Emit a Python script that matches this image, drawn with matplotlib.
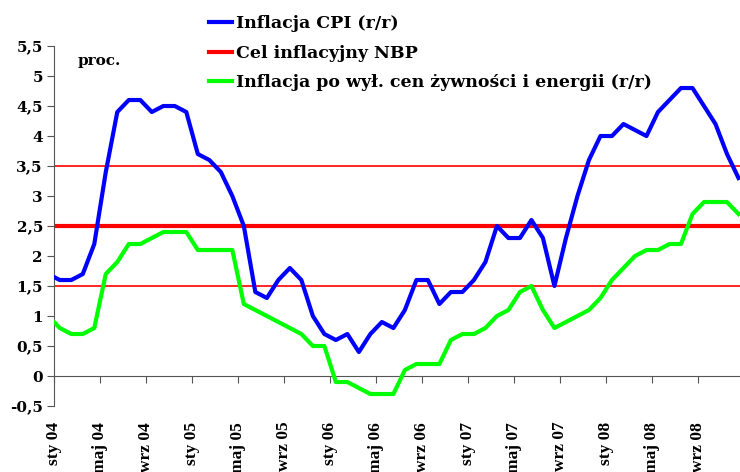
import matplotlib
matplotlib.use('Agg')
import matplotlib.pyplot as plt
from matplotlib.ticker import MultipleLocator, FuncFormatter

# miesiace od gru 03 do gru 08 (indeks 0 = sty 04)
miesiace = list(range(-1, 60))

cpi = [1.7,
       1.6, 1.6, 1.7, 2.2, 3.4, 4.4, 4.6, 4.6, 4.4, 4.5, 4.5, 4.4,
       3.7, 3.6, 3.4, 3.0, 2.5, 1.4, 1.3, 1.6, 1.8, 1.6, 1.0, 0.7,
       0.6, 0.7, 0.4, 0.7, 0.9, 0.8, 1.1, 1.6, 1.6, 1.2, 1.4, 1.4,
       1.6, 1.9, 2.5, 2.3, 2.3, 2.6, 2.3, 1.5, 2.3, 3.0, 3.6, 4.0,
       4.0, 4.2, 4.1, 4.0, 4.4, 4.6, 4.8, 4.8, 4.5, 4.2, 3.7, 3.3]

bazowa = [1.0,
          0.8, 0.7, 0.7, 0.8, 1.7, 1.9, 2.2, 2.2, 2.3, 2.4, 2.4, 2.4,
          2.1, 2.1, 2.1, 2.1, 1.2, 1.1, 1.0, 0.9, 0.8, 0.7, 0.5, 0.5,
          -0.1, -0.1, -0.2, -0.3, -0.3, -0.3, 0.1, 0.2, 0.2, 0.2, 0.6, 0.7,
          0.7, 0.8, 1.0, 1.1, 1.4, 1.5, 1.1, 0.8, 0.9, 1.0, 1.1, 1.3,
          1.6, 1.8, 2.0, 2.1, 2.1, 2.2, 2.2, 2.7, 2.9, 2.9, 2.9, 2.7]

cel = 2.5
pasmo = [1.5, 3.5]

etykiety = ['sty 04', 'maj 04', 'wrz 04', 'sty 05', 'maj 05', 'wrz 05',
            'sty 06', 'maj 06', 'wrz 06', 'sty 07', 'maj 07', 'wrz 07',
            'sty 08', 'maj 08', 'wrz 08']
pozycje = [-0.5 + 4 * i for i in range(len(etykiety))]

fig = plt.figure(figsize=(7.4, 4.72), dpi=100)
ax = fig.add_axes([0.073, 0.1398, 0.927, 0.7627])

for p in pasmo:
    ax.axhline(p, color='#ff0000', lw=1.2, zorder=1)
ax.axhline(cel, color='#ff0000', lw=3, zorder=2, label='Cel inflacyjny NBP')
ax.plot(miesiace, cpi, color='#0000ff', lw=3, zorder=3, label='Inflacja CPI (r/r)')
ax.plot(miesiace, bazowa, color='#00ff00', lw=3, zorder=3,
        label='Inflacja po wył. cen żywności i energii (r/r)')

ax.set_xlim(-0.5, 59.13)
ax.set_ylim(-0.5, 5.5)

ax.spines['top'].set_visible(False)
ax.spines['right'].set_visible(False)
ax.spines['bottom'].set_position(('data', 0))
ax.spines['left'].set_color('#555555')
ax.spines['bottom'].set_color('#555555')

ax.yaxis.set_major_locator(MultipleLocator(0.5))
ax.yaxis.set_major_formatter(FuncFormatter(lambda v, p: ('%g' % v).replace('.', ',')))
ax.set_xticks(pozycje)
ax.set_xticklabels(etykiety, rotation=90, family='Liberation Serif',
                   fontweight='bold', fontsize=12.5, va='top')
ax.tick_params(axis='x', direction='out', length=5, color='#555555', pad=28)
ax.tick_params(axis='y', direction='out', length=5, color='#555555', pad=3)
for t in ax.get_yticklabels():
    t.set_family('DejaVu Serif')
    t.set_fontweight('bold')
    t.set_fontsize(11)

fig.text(0.105, 0.862, 'proc.', family='DejaVu Serif', fontweight='bold', fontsize=11)

h, l = ax.get_legend_handles_labels()
kol = [1, 0, 2]
ax.legend([h[i] for i in kol], [l[i] for i in kol], loc='upper left',
          bbox_to_anchor=(0.266, 0.993), bbox_transform=fig.transFigure,
          frameon=False, prop={'family': 'DejaVu Serif', 'weight': 'bold', 'size': 12.5},
          handlelength=1.3, handletextpad=0.25, labelspacing=0.7, borderaxespad=0.3)

fig.savefig('out.png', dpi=100)
